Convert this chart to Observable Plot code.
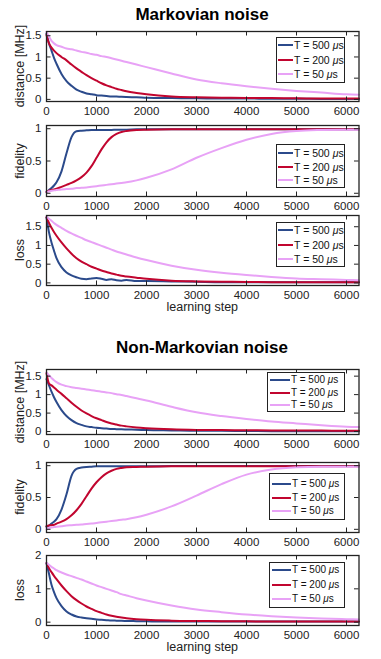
<!DOCTYPE html>
<html><head><meta charset="utf-8">
<script src="https://cdn.jsdelivr.net/npm/d3@7"></script>
<script src="https://cdn.jsdelivr.net/npm/@observablehq/plot@0.6"></script>
<style>
body{margin:0;background:#fff;font-family:"Liberation Sans",Arial,sans-serif;color:#111;}
#root{position:relative;width:381px;height:659px;overflow:hidden;background:#fff;}
#root svg{position:absolute;left:0;}
.title{position:absolute;left:0;width:404px;text-align:center;font-weight:bold;font-size:17px;line-height:20px;color:#000;}
.ylab{position:absolute;font-size:12.5px;line-height:14px;white-space:nowrap;transform:translate(-50%,-50%) rotate(-90deg);color:#222;}
.xlab{position:absolute;font-size:12.5px;line-height:14px;white-space:nowrap;transform:translate(-50%,-50%);color:#222;}
.legend{position:absolute;border:1.4px solid #222;background:#fff;box-sizing:border-box;}
.legend .sw{position:absolute;height:2px;}
.legend .tx{position:absolute;transform:translateY(-50%);line-height:12px;white-space:nowrap;color:#111;}
</style></head>
<body><div id="root"></div>
<script>
const steps = [0,50,100,150,200,300,400,500,600,700,800,900,1000,1100,1200,1300,1400,1500,1600,1800,2000,2500,3000,3500,4000,4500,5000,5500,6000,6250];
const seriesNames = ["T = 500 μs","T = 200 μs","T = 50 μs"];
const seriesColors = ["#2b4a8b","#c1052f","#e8a2f6"];
const xTicks = [0,1000,2000,3000,4000,5000,6000];

// Markovian noise
const mDist500 = [1.55,1.32,1.15,0.98,0.84,0.6,0.43,0.32,0.23,0.18,0.14,0.12,0.1,0.09,0.08,0.07,0.065,0.06,0.055,0.05,0.04,0.03,0.025,0.02,0.02,0.015,0.015,0.01,0.01,0.01];
const mDist200 = [1.52,1.32,1.22,1.15,1.09,1.0,0.92,0.82,0.73,0.65,0.57,0.5,0.44,0.38,0.33,0.29,0.25,0.22,0.19,0.15,0.12,0.07,0.05,0.04,0.035,0.03,0.025,0.02,0.02,0.02];
const mDist50  = [1.59,1.48,1.38,1.32,1.28,1.24,1.2,1.18,1.15,1.12,1.1,1.07,1.05,1.02,1.0,0.97,0.94,0.91,0.88,0.82,0.76,0.61,0.47,0.38,0.31,0.25,0.2,0.16,0.12,0.11];
const mFid500 = [0.02,0.05,0.08,0.12,0.17,0.34,0.62,0.87,0.96,0.97,0.975,0.98,0.98,0.98,0.98,0.98,0.985,0.985,0.985,0.99,0.99,0.99,0.99,0.99,0.99,0.99,0.99,0.99,0.99,0.99];
const mFid200 = [0.02,0.04,0.05,0.06,0.07,0.1,0.13,0.16,0.2,0.25,0.32,0.42,0.55,0.68,0.79,0.87,0.92,0.95,0.965,0.98,0.985,0.99,0.99,0.99,0.99,0.99,0.99,0.99,0.99,0.99];
const mFid50  = [0.02,0.03,0.04,0.045,0.05,0.06,0.065,0.07,0.08,0.085,0.09,0.1,0.11,0.12,0.13,0.14,0.15,0.16,0.17,0.2,0.24,0.37,0.55,0.7,0.83,0.92,0.965,0.98,0.985,0.985];
const mLoss500 = [1.75,1.35,1.08,0.86,0.66,0.42,0.28,0.2,0.15,0.11,0.1,0.12,0.13,0.11,0.08,0.1,0.07,0.06,0.08,0.05,0.05,0.04,0.03,0.02,0.02,0.02,0.02,0.02,0.02,0.02];
const mLoss200 = [1.75,1.6,1.47,1.36,1.26,1.08,0.92,0.78,0.66,0.57,0.5,0.43,0.38,0.33,0.29,0.25,0.22,0.19,0.17,0.14,0.11,0.06,0.04,0.03,0.025,0.02,0.02,0.02,0.02,0.02];
const mLoss50  = [1.77,1.71,1.66,1.6,1.55,1.47,1.39,1.32,1.26,1.2,1.14,1.09,1.04,0.99,0.94,0.89,0.84,0.8,0.76,0.68,0.61,0.46,0.35,0.27,0.21,0.16,0.12,0.1,0.08,0.07];

// Non-Markovian noise
const nDist500 = [1.42,1.25,1.08,0.93,0.8,0.58,0.42,0.31,0.23,0.18,0.14,0.12,0.1,0.09,0.08,0.07,0.065,0.06,0.055,0.05,0.04,0.03,0.02,0.02,0.015,0.01,0.01,0.01,0.01,0.01];
const nDist200 = [1.58,1.3,1.25,1.19,1.13,1.02,0.9,0.78,0.67,0.57,0.49,0.42,0.36,0.31,0.26,0.22,0.19,0.16,0.14,0.11,0.09,0.06,0.045,0.04,0.035,0.03,0.03,0.025,0.02,0.02];
const nDist50  = [1.6,1.52,1.45,1.39,1.34,1.27,1.23,1.2,1.18,1.16,1.14,1.12,1.1,1.08,1.06,1.04,1.01,0.99,0.96,0.9,0.84,0.67,0.52,0.42,0.34,0.27,0.22,0.17,0.13,0.12];
const nFid500 = [0.04,0.06,0.09,0.12,0.16,0.31,0.55,0.84,0.95,0.97,0.98,0.985,0.99,0.99,0.99,0.99,0.99,0.99,0.99,0.99,0.99,0.995,0.995,0.995,0.995,0.995,0.995,0.995,0.995,0.995];
const nFid200 = [0.05,0.06,0.065,0.07,0.09,0.12,0.16,0.22,0.3,0.4,0.52,0.64,0.74,0.82,0.88,0.92,0.95,0.965,0.975,0.98,0.985,0.99,0.99,0.99,0.99,0.99,0.99,0.99,0.99,0.99];
const nFid50  = [0.0,0.02,0.03,0.035,0.04,0.05,0.06,0.065,0.07,0.075,0.085,0.09,0.1,0.11,0.12,0.13,0.14,0.15,0.16,0.19,0.23,0.36,0.53,0.71,0.86,0.94,0.975,0.985,0.985,0.985];
const nLoss500 = [1.77,1.45,1.12,0.9,0.72,0.48,0.32,0.23,0.17,0.14,0.12,0.1,0.08,0.07,0.06,0.05,0.045,0.04,0.035,0.03,0.025,0.02,0.02,0.02,0.02,0.02,0.02,0.02,0.02,0.02];
const nLoss200 = [1.77,1.62,1.5,1.39,1.29,1.1,0.93,0.78,0.66,0.56,0.47,0.4,0.33,0.28,0.23,0.19,0.16,0.14,0.12,0.09,0.07,0.045,0.035,0.03,0.025,0.02,0.02,0.02,0.02,0.02];
const nLoss50  = [1.78,1.72,1.66,1.61,1.56,1.49,1.43,1.38,1.33,1.28,1.22,1.16,1.1,1.05,1.0,0.95,0.9,0.84,0.8,0.72,0.65,0.5,0.38,0.3,0.23,0.18,0.14,0.11,0.09,0.08];

const titles = ["Markovian noise","Non-Markovian noise"];
const yLabels = ["distance [MHz]","fidelity","loss"];
const xLabel = "learning step";

const root = document.getElementById("root");
const ML = 46, MR = 22.5, W = 381, MT = 8;
const fw = W - ML - MR;

function toRows(arrs){
  const rows = [];
  arrs.forEach((a,k)=>a.forEach((v,i)=>rows.push({step:steps[i], value:v, s:k})));
  return rows;
}

function panel(cfg){
  const {top, fh, yDomain, yTicks, arrs, ylabel, xlab, legend} = cfg;
  const MB = 22;
  const data = toRows(arrs);
  const tick = 4.5;
  const svg = Plot.plot({
    width: W, height: MT + fh + MB,
    marginTop: MT, marginBottom: MB, marginLeft: ML, marginRight: MR,
    style: {fontFamily: "'Liberation Sans', Arial, sans-serif", fontSize: "11.5px", color: "#222", background: "transparent"},
    x: {domain: [0, 6250]},
    y: {domain: yDomain},
    marks: [
      Plot.axisX(xTicks, {tickSize: 0, tickPadding: 5, tickFormat: d => String(d), label: null}),
      Plot.axisY(yTicks, {tickSize: 0, tickPadding: 5, tickFormat: d => String(d), label: null}),
      ...[0,1,2].map(k => Plot.line(data.filter(d => d.s === k), {x: "step", y: "value", stroke: seriesColors[k], strokeWidth: 2, curve: "monotone-x"})),
      Plot.ruleX(xTicks, {x: d => d, insetTop: fh - tick, stroke: "#222", strokeWidth: 1}),
      Plot.ruleX(xTicks, {x: d => d, insetBottom: fh - tick, stroke: "#222", strokeWidth: 1}),
      Plot.ruleY(yTicks, {y: d => d, insetRight: fw - tick, stroke: "#222", strokeWidth: 1}),
      Plot.ruleY(yTicks, {y: d => d, insetLeft: fw - tick, stroke: "#222", strokeWidth: 1}),
      Plot.frame({stroke: "#222", strokeWidth: 1.3})
    ]
  });
  svg.style.top = (top - MT) + "px";
  root.appendChild(svg);

  const yl = document.createElement("div");
  yl.className = "ylab"; yl.textContent = ylabel;
  yl.style.left = "20px"; yl.style.top = (top + fh/2) + "px";
  root.appendChild(yl);

  if (xlab) {
    const xl = document.createElement("div");
    xl.className = "xlab"; xl.textContent = xlab;
    xl.style.left = (ML + fw/2) + "px"; xl.style.top = (top + fh + 22) + "px";
    root.appendChild(xl);
  }

  const lg = document.createElement("div");
  lg.className = "legend";
  Object.assign(lg.style, {left: legend.x + "px", top: legend.y + "px", width: legend.w + "px", height: legend.h + "px", fontSize: legend.fs + "px"});
  seriesNames.forEach((name, k) => {
    const sw = document.createElement("div");
    sw.className = "sw";
    Object.assign(sw.style, {left: legend.sx + "px", width: legend.sl + "px", top: (legend.rows[k] - 1) + "px", background: seriesColors[k]});
    lg.appendChild(sw);
    const tx = document.createElement("div");
    tx.className = "tx";
    const parts = name.split("μ");
    tx.innerHTML = parts[0] + "<i>μ</i>" + parts[1];
    Object.assign(tx.style, {left: (legend.sx + legend.sl + 1) + "px", top: legend.rows[k] + "px"});
    lg.appendChild(tx);
  });
  root.appendChild(lg);
}

function addTitle(text, cy){
  const t = document.createElement("div");
  t.className = "title"; t.textContent = text;
  t.style.top = (cy - 10) + "px";
  root.appendChild(t);
}

addTitle(titles[0], 15);
panel({top: 31, fh: 70, yDomain: [-0.05, 1.6], yTicks: [0,0.5,1,1.5], arrs: [mDist500,mDist200,mDist50], ylabel: yLabels[0],
  legend: {x: 276, y: 37, w: 69, h: 46, fs: 10.5, sx: 1, sl: 15, rows: [7, 22, 36]}});
panel({top: 125, fh: 71, yDomain: [-0.05, 1.05], yTicks: [0,0.5,1], arrs: [mFid500,mFid200,mFid50], ylabel: yLabels[1],
  legend: {x: 276, y: 144, w: 69, h: 44, fs: 10.5, sx: 1, sl: 15, rows: [8, 22, 35]}});
panel({top: 215, fh: 70, yDomain: [-0.07, 1.8], yTicks: [0,0.5,1,1.5], arrs: [mLoss500,mLoss200,mLoss50], ylabel: yLabels[2], xlab: xLabel,
  legend: {x: 276, y: 222, w: 69, h: 45, fs: 10.5, sx: 1, sl: 15, rows: [7, 22, 36]}});

addTitle(titles[1], 348);
panel({top: 369, fh: 65, yDomain: [-0.08, 1.68], yTicks: [0,0.5,1,1.5], arrs: [nDist500,nDist200,nDist50], ylabel: yLabels[0],
  legend: {x: 267, y: 372, w: 78, h: 40, fs: 10, sx: 2, sl: 20, rows: [7, 20, 32]}});
panel({top: 462, fh: 70, yDomain: [-0.05, 1.05], yTicks: [0,0.5,1], arrs: [nFid500,nFid200,nFid50], ylabel: yLabels[1],
  legend: {x: 269, y: 473, w: 76, h: 47, fs: 10, sx: 2, sl: 19, rows: [10, 24, 37]}});
panel({top: 555, fh: 70, yDomain: [-0.1, 2.0], yTicks: [0,1,2], arrs: [nLoss500,nLoss200,nLoss50], ylabel: yLabels[2], xlab: xLabel,
  legend: {x: 269, y: 562, w: 76, h: 46, fs: 10, sx: 2, sl: 19, rows: [7, 22, 36]}});
</script>
</body></html>
